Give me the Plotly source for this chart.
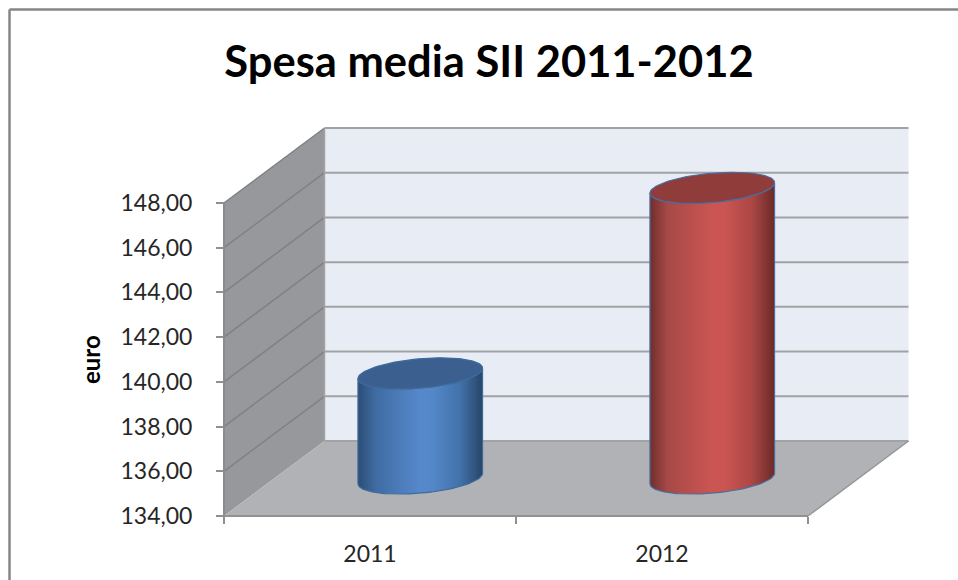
import numpy as np
import plotly.graph_objects as go

# Chart data
categories = ["2011", "2012"]
spesa_media = [138.7, 147.0]
value_ticks = [134, 136, 138, 140, 142, 144, 146, 148]

# Page and plot geometry (pixels)
W, H = 958, 580
X0, X1 = 224, 808          # front edge of the floor
Y_BOTTOM, Y_TOP = 516, 203 # value axis, bottom and top
DEPTH_PX = (100.5, 75)     # oblique offset of the back wall

CAT_PX = (X1 - X0) / len(categories)
VAL_PX = (Y_BOTTOM - Y_TOP) / (value_ticks[-1] - value_ticks[0])
DX = DEPTH_PX[0] / CAT_PX
DY = DEPTH_PX[1] / VAL_PX
V0, V1 = value_ticks[0], value_ticks[-1]
NCAT = len(categories)


def proj(c, d, v):
    """Oblique projection: category, depth (0 front, 1 back), value -> axis coordinates."""
    return c + np.asarray(d) * DX, v + np.asarray(d) * DY


fig = go.Figure()


def poly(corners, color):
    xs, ys = zip(*[proj(*p) for p in corners])
    fig.add_trace(go.Scatter(x=xs, y=ys, mode="lines", fill="toself", fillcolor=color,
                             line=dict(width=0), hoverinfo="skip"))


def segment(a, b, color, width):
    xs, ys = zip(proj(*a), proj(*b))
    fig.add_trace(go.Scatter(x=xs, y=ys, mode="lines", line=dict(color=color, width=width),
                             hoverinfo="skip"))


# Walls and floor
poly([(0, 1, V0), (NCAT, 1, V0), (NCAT, 1, V1), (0, 1, V1)], "#e7ecf5")
poly([(0, 0, V0), (0, 1, V0), (0, 1, V1), (0, 0, V1)], "#97989b")
poly([(0, 0, V0), (NCAT, 0, V0), (NCAT, 1, V0), (0, 1, V0)], "#b0b2b6")

# Gridlines along the side and back walls
for v in value_ticks:
    if v != V0:
        segment((0, 0, v), (0, 1, v), "#808184", 1.5)
    segment((0, 1, v), (NCAT, 1, v), "#a2a2a4", 2)
segment((0, 0, V0), (0, 0, V1), "#8b8b8d", 2)
segment((0, 1, V0), (0, 1, V1), "#a2a3a6", 1.5)
segment((0, 0, V0), (NCAT, 0, V0), "#929292", 2)
segment((NCAT, 0, V0), (NCAT, 1, V0), "#969696", 1.5)

# Cylinders
RADIUS_C, RADIUS_D = 0.201, 0.208
SERIES_STYLE = [
    dict(top="#3b6090", edge="#3f6a9c", stops=["#2c4d75", "#3f6ba1", "#5689cc", "#5487c8", "#4272aa", "#274567"]),
    dict(top="#8f3c3a", edge="#4a6d9e", stops=["#6e2f2d", "#a64947", "#cb5552", "#cb5552", "#ab4744", "#6b2a28"]),
]
STOP_POS = [0, 0.14, 0.5, 0.6, 0.82, 1]


def ring(center, value, t):
    c = center + RADIUS_C * np.cos(t)
    d = 0.5 + RADIUS_D * np.sin(t)
    return proj(c, d, value)


# Silhouette angles: where the ellipse reaches its horizontal extremes on screen
t_right = np.arctan2(RADIUS_D * DX, RADIUS_C)
t_front = np.linspace(np.pi + t_right, 2 * np.pi + t_right, 60)

for i, (val, style) in enumerate(zip(spesa_media, SERIES_STYLE)):
    center = i + 0.5
    bx, by = ring(center, V0, t_front)
    tx, ty = ring(center, val, t_front)
    fig.add_trace(go.Scatter(
        x=np.concatenate([bx, tx[::-1], bx[:1]]),
        y=np.concatenate([by, ty[::-1], by[:1]]),
        mode="lines", fill="toself",
        fillgradient=dict(type="horizontal",
                          colorscale=list(zip(STOP_POS, style["stops"]))),
        line=dict(color=style["edge"], width=1.2), hoverinfo="skip",
    ))
    t_all = np.linspace(0, 2 * np.pi, 121)
    ex, ey = ring(center, val, t_all)
    fig.add_trace(go.Scatter(x=ex, y=ey, mode="lines", fill="toself", fillcolor=style["top"],
                             line=dict(color=style["edge"], width=1.2), hoverinfo="skip"))

FONT = "Lato, Carlito, Calibri, sans-serif"
fig.update_layout(
    width=W, height=H, margin=dict(l=0, r=0, t=0, b=0),
    paper_bgcolor="white", plot_bgcolor="white", showlegend=False,
    separators=",.",
    font=dict(family=FONT, color="#262626"),
    title=dict(text="<b>Spesa media SII 2011-2012</b>", x=489 / W, xanchor="center",
               y=1 - 62 / H, yanchor="middle", font=dict(size=43.5, color="black", family=FONT)),
    xaxis=dict(
        range=[-X0 / CAT_PX, (W - X0) / CAT_PX], domain=[0, 1],
        anchor="free", position=(H - Y_BOTTOM) / H,
        showgrid=False, zeroline=False, showline=False,
        tickmode="array", tickvals=[i + 0.5 for i in range(NCAT)], ticktext=categories,
        ticks="", ticklabelstandoff=22, tickfont=dict(size=23),
        minor=dict(tickmode="array", tickvals=list(range(NCAT + 1)), ticks="outside",
                   ticklen=7, tickwidth=2, tickcolor="#8f8f8f", showgrid=False),
    ),
    yaxis=dict(
        range=[V0 - (H - Y_BOTTOM) / VAL_PX, V0 + Y_BOTTOM / VAL_PX], domain=[0, 1],
        anchor="free", position=X0 / W,
        showgrid=False, zeroline=False, showline=False,
        tickmode="array", tickvals=value_ticks, tickformat=".2f",
        ticks="outside", ticklen=8, tickwidth=2, tickcolor="#8f8f8f",
        ticklabelstandoff=19, tickfont=dict(size=23),
    ),
    annotations=[dict(text="<b>euro</b>", textangle=-90, x=90 / W, y=1 - 360 / H,
                      xref="paper", yref="paper", xanchor="center", yanchor="middle",
                      showarrow=False, font=dict(size=24, color="black", family=FONT))],
    shapes=[
        dict(type="line", xref="paper", yref="paper", x0=9.5 / W, x1=1, y0=1 - 9.5 / H, y1=1 - 9.5 / H,
             line=dict(color="#868686", width=2.5)),
        dict(type="line", xref="paper", yref="paper", x0=9.5 / W, x1=9.5 / W, y0=0, y1=1 - 9.5 / H,
             line=dict(color="#868686", width=2.5)),
    ],
)

fig.write_html("out.html", config=dict(displayModeBar=False))
